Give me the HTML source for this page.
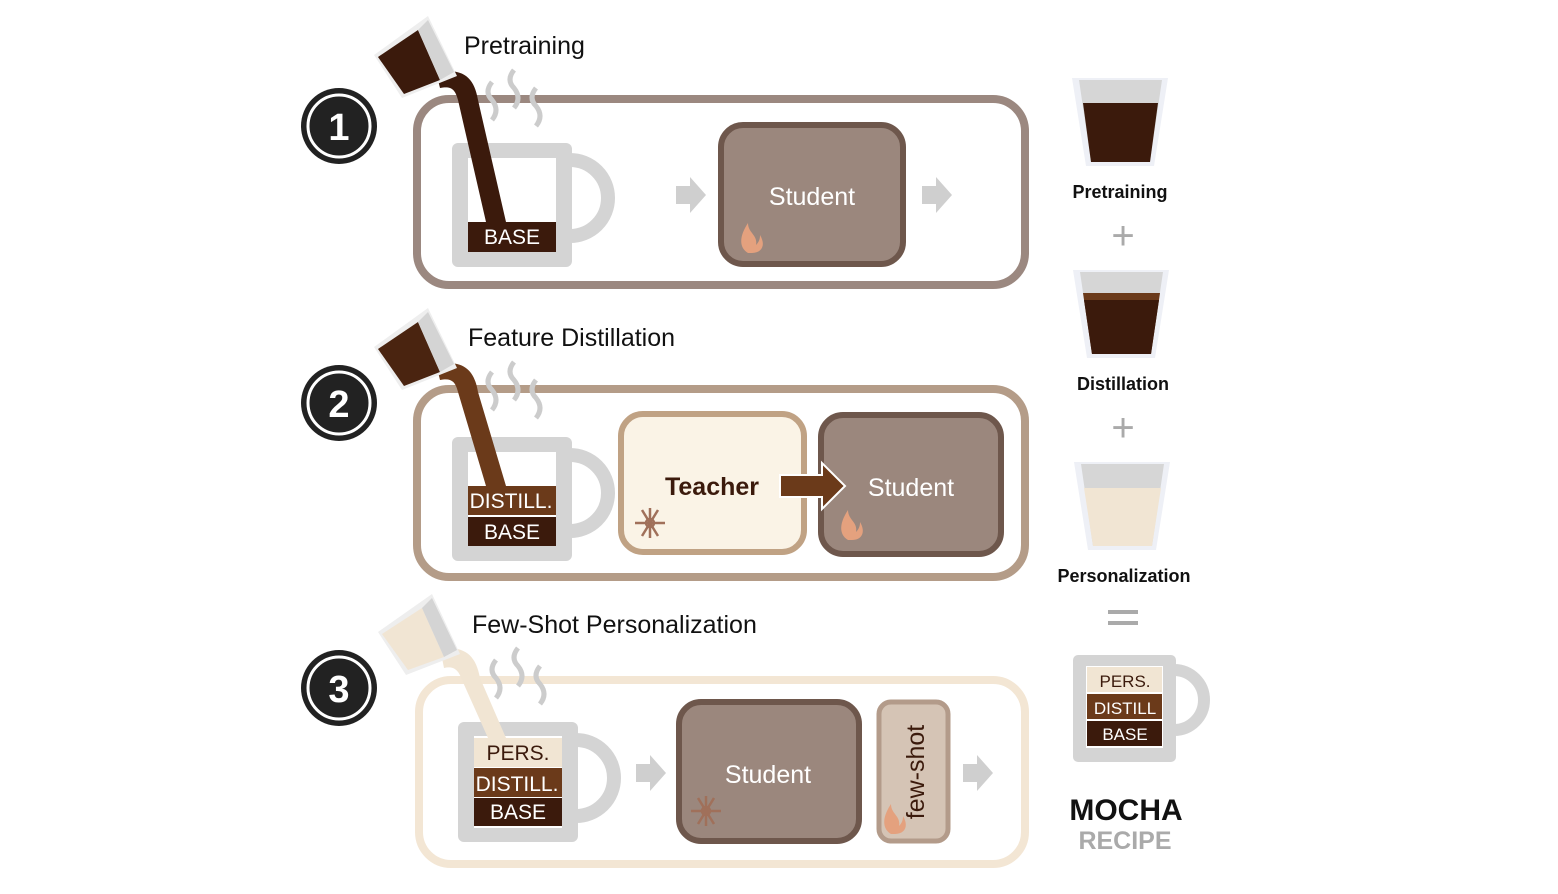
<!DOCTYPE html>
<html><head><meta charset="utf-8"><style>
body{margin:0;background:#fff;}
svg{display:block;font-family:"Liberation Sans","DejaVu Sans",sans-serif;}
</style></head><body>
<svg width="1558" height="894" viewBox="0 0 1558 894">
<defs>
<g id="arrowg"><polygon points="0,-9 14,-9 14,-18 30,0 14,18 14,9 0,9" fill="#cfcfcf"/></g>
<g id="flame"><path d="M0,0 C-10,-6 -8,-18 0,-30 C0,-20 10,-18 8,-8 C12,-12 12,-16 12,-18 C18,-8 14,0 4,0 Z" fill="#e4a17e"/></g>
<g id="snow" stroke="#a0705a" stroke-width="2.5" fill="none"><line x1="-15" y1="0" x2="15" y2="0"/><line x1="-8" y1="-13" x2="8" y2="13"/><line x1="-8" y1="13" x2="8" y2="-13"/><line x1="0" y1="-15" x2="0" y2="15"/><circle r="4"/></g>
</defs>

<!-- Row 1 -->
<g>
<circle cx="339" cy="126" r="38" fill="#222"/>
<circle cx="339" cy="126" r="31" fill="none" stroke="#fff" stroke-width="3"/>
<text x="339" y="140" font-size="38" font-weight="bold" fill="#fff" text-anchor="middle">1</text>
<text x="464" y="54" font-size="25" fill="#111">Pretraining</text>
<rect x="417" y="99" width="608" height="186" rx="32" fill="none" stroke="#9b8880" stroke-width="8"/>
<g>
<path d="M570,160 a38,38 0 0 1 0,76" fill="none" stroke="#d4d4d4" stroke-width="14"/>
<rect x="452" y="143" width="120" height="124" rx="6" fill="#d4d4d4"/>
<rect x="468" y="158" width="88" height="94" fill="#fff"/>
<rect x="468" y="222" width="88" height="30" fill="#3b1a0c"/>
<text x="512" y="244" font-size="21" fill="#fff" text-anchor="middle">BASE</text>
</g>
<g fill="none" stroke="#ccc" stroke-width="5"><path d="M492,82 q-8,10 0,18 q8,10 0,20"/><path d="M514,70 q-8,10 0,18 q8,10 0,20"/><path d="M536,88 q-8,10 0,18 q8,10 0,20"/></g>
<path d="M436,72 C462,68 474,76 478,100 L506,222 L486,222 L458,100 C455,88 450,86 440,88 Z" fill="#3b1a0c"/>
<polygon points="374,55 428,16 457,76 402,98" fill="#eee"/>
<polygon points="378,57 418,30 440,80 404,94" fill="#3b1a0c"/>
<polygon points="418,30 428,20 454,72 440,80" fill="#d4d4d4"/>
<use href="#arrowg" x="676" y="195"/>
<rect x="721" y="125" width="182" height="139" rx="22" fill="#9b877d" stroke="#6e574c" stroke-width="6"/>
<text x="812" y="205" font-size="25" fill="#fff" text-anchor="middle">Student</text>
<use href="#flame" x="748" y="253"/>
<use href="#arrowg" x="922" y="195"/>
</g>

<!-- Row 2 -->
<g>
<circle cx="339" cy="403" r="38" fill="#222"/>
<circle cx="339" cy="403" r="31" fill="none" stroke="#fff" stroke-width="3"/>
<text x="339" y="417" font-size="38" font-weight="bold" fill="#fff" text-anchor="middle">2</text>
<text x="468" y="346" font-size="25" fill="#111">Feature Distillation</text>
<rect x="417" y="389" width="608" height="188" rx="32" fill="none" stroke="#b49c88" stroke-width="8"/>
<g>
<path d="M570,455 a38,38 0 0 1 0,76" fill="none" stroke="#d4d4d4" stroke-width="14"/>
<rect x="452" y="437" width="120" height="124" rx="6" fill="#d4d4d4"/>
<rect x="468" y="452" width="88" height="94" fill="#fff"/>
<rect x="468" y="486" width="88" height="29" fill="#6b3a1a"/>
<rect x="468" y="517" width="88" height="29" fill="#3b1a0c"/>
<text x="511" y="508" font-size="21" fill="#fff" text-anchor="middle">DISTILL.</text>
<text x="512" y="539" font-size="21" fill="#fff" text-anchor="middle">BASE</text>
</g>
<g fill="none" stroke="#ccc" stroke-width="5"><path d="M492,372 q-8,10 0,18 q8,10 0,20"/><path d="M514,362 q-8,10 0,18 q8,10 0,20"/><path d="M536,380 q-8,10 0,18 q8,10 0,20"/></g>
<path d="M436,364 C462,360 474,368 478,392 L506,486 L486,486 L458,392 C455,380 450,378 440,380 Z" fill="#6b3a1a"/>
<polygon points="374,347 428,308 457,368 402,390" fill="#eee"/>
<polygon points="378,349 418,322 440,372 404,386" fill="#4a2410"/>
<polygon points="418,322 428,312 454,364 440,372" fill="#d4d4d4"/>
<rect x="621" y="414" width="183" height="138" rx="22" fill="#faf3e6" stroke="#c0a284" stroke-width="6"/>
<text x="712" y="495" font-size="25" font-weight="bold" fill="#3b1a0c" text-anchor="middle">Teacher</text>
<use href="#snow" x="650" y="523"/>
<rect x="821" y="415" width="180" height="139" rx="22" fill="#9b877d" stroke="#6e574c" stroke-width="6"/>
<polygon points="780,475 822,475 822,463 845,486 822,509 822,497 780,497" fill="#6b3a1a" stroke="#fff" stroke-width="2"/>
<text x="911" y="496" font-size="25" fill="#fff" text-anchor="middle">Student</text>
<use href="#flame" x="848" y="540"/>
</g>

<!-- Row 3 -->
<g>
<circle cx="339" cy="688" r="38" fill="#222"/>
<circle cx="339" cy="688" r="31" fill="none" stroke="#fff" stroke-width="3"/>
<text x="339" y="702" font-size="38" font-weight="bold" fill="#fff" text-anchor="middle">3</text>
<text x="472" y="633" font-size="25" fill="#111">Few-Shot Personalization</text>
<rect x="419" y="680" width="606" height="184" rx="32" fill="none" stroke="#f3e6d4" stroke-width="8"/>
<g>
<path d="M576,740 a38,38 0 0 1 0,76" fill="none" stroke="#d4d4d4" stroke-width="14"/>
<rect x="458" y="722" width="120" height="120" rx="6" fill="#d4d4d4"/>
<rect x="474" y="736" width="88" height="92" fill="#fff"/>
<rect x="474" y="738" width="88" height="29" fill="#f1e5d3"/>
<rect x="474" y="768" width="88" height="29" fill="#6b3a1a"/>
<rect x="474" y="798" width="88" height="28" fill="#3b1a0c"/>
<text x="518" y="760" font-size="21" fill="#3b1a0c" text-anchor="middle">PERS.</text>
<text x="517" y="791" font-size="21" fill="#fff" text-anchor="middle">DISTILL.</text>
<text x="518" y="819" font-size="21" fill="#fff" text-anchor="middle">BASE</text>
</g>
<g fill="none" stroke="#ccc" stroke-width="5"><path d="M496,660 q-8,10 0,18 q8,10 0,20"/><path d="M518,648 q-8,10 0,18 q8,10 0,20"/><path d="M540,666 q-8,10 0,18 q8,10 0,20"/></g>
<path d="M440,648 C466,646 476,656 480,678 L506,738 L488,738 L462,680 C458,668 452,666 444,668 Z" fill="#f1e5d3"/>
<polygon points="378,632 432,594 460,654 406,675" fill="#eee"/>
<polygon points="382,634 422,608 444,657 408,670" fill="#f1e5d3"/>
<polygon points="422,608 432,598 457,650 444,657" fill="#d4d4d4"/>
<use href="#arrowg" x="636" y="773"/>
<rect x="679" y="702" width="180" height="139" rx="22" fill="#9b877d" stroke="#6e574c" stroke-width="6"/>
<text x="768" y="783" font-size="25" fill="#fff" text-anchor="middle">Student</text>
<use href="#snow" x="706" y="811"/>
<rect x="879" y="702" width="69" height="139" rx="12" fill="#d5c4b5" stroke="#b39b8a" stroke-width="5"/>
<text transform="translate(924,772) rotate(-90)" font-size="25" fill="#3b1a0c" text-anchor="middle">few-shot</text>
<use href="#flame" x="891" y="834"/>
<use href="#arrowg" x="963" y="773"/>
</g>

<!-- Right recipe -->
<g>
<polygon points="1072,78 1168,78 1154,166 1086,166" fill="#eef0f6"/>
<polygon points="1079,80 1162,80 1150,162 1091,162" fill="#d6d6d6"/>
<polygon points="1083,103 1158,103 1150,162 1091,162" fill="#3b1a0c"/>
<text x="1120" y="198" font-size="18" font-weight="bold" fill="#111" text-anchor="middle">Pretraining</text>
<text x="1123" y="249" font-size="40" fill="#aaa" text-anchor="middle">+</text>
<polygon points="1073,270 1169,270 1155,358 1087,358" fill="#eef0f6"/>
<polygon points="1080,272 1163,272 1151,354 1092,354" fill="#d6d6d6"/>
<polygon points="1083,293 1160,293 1151,354 1092,354" fill="#6b3a1a"/>
<polygon points="1084,300 1159,300 1151,354 1092,354" fill="#3b1a0c"/>
<text x="1123" y="390" font-size="18" font-weight="bold" fill="#111" text-anchor="middle">Distillation</text>
<text x="1123" y="441" font-size="40" fill="#aaa" text-anchor="middle">+</text>
<polygon points="1074,462 1170,462 1156,550 1088,550" fill="#eef0f6"/>
<polygon points="1081,464 1164,464 1152,546 1093,546" fill="#d6d6d6"/>
<polygon points="1084,488 1161,488 1152,546 1093,546" fill="#f1e5d3"/>
<text x="1124" y="582" font-size="18" font-weight="bold" fill="#111" text-anchor="middle">Personalization</text>
<rect x="1108" y="610" width="30" height="4" fill="#aaa"/>
<rect x="1108" y="621" width="30" height="4" fill="#aaa"/>
<g>
<path d="M1174,670 a30,30 0 0 1 0,60" fill="none" stroke="#d4d4d4" stroke-width="12"/>
<rect x="1073" y="655" width="103" height="107" rx="5" fill="#d4d4d4"/>
<rect x="1086" y="666" width="77" height="82" fill="#fff"/>
<rect x="1087" y="667" width="75" height="25" fill="#f1e5d3"/>
<rect x="1087" y="694" width="75" height="25" fill="#6b3a1a"/>
<rect x="1087" y="721" width="75" height="25" fill="#3b1a0c"/>
<text x="1125" y="687" font-size="17" fill="#3b1a0c" text-anchor="middle">PERS.</text>
<text x="1125" y="714" font-size="17" fill="#fff" text-anchor="middle">DISTILL</text>
<text x="1125" y="740" font-size="17" fill="#fff" text-anchor="middle">BASE</text>
</g>
<text x="1126" y="820" font-size="30" font-weight="bold" fill="#111" text-anchor="middle">MOCHA</text>
<text x="1125" y="849" font-size="25" font-weight="bold" fill="#aaa" text-anchor="middle">RECIPE</text>
</g>
</svg>
</body></html>
